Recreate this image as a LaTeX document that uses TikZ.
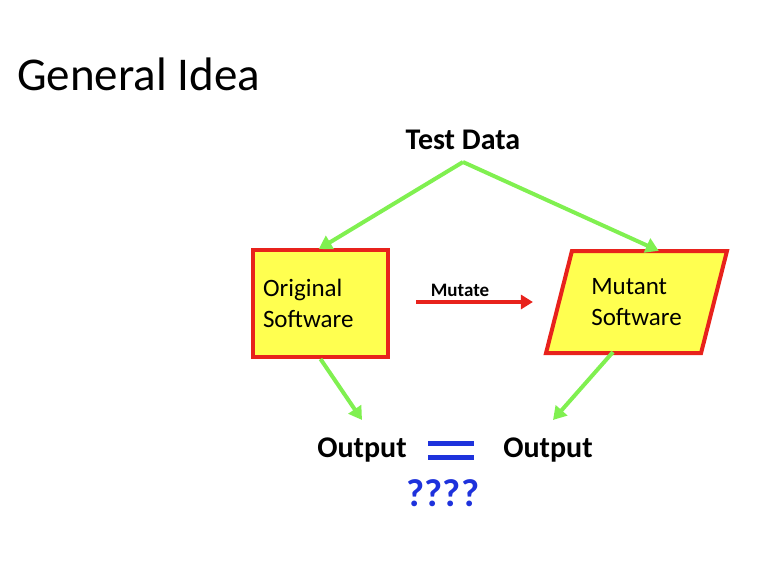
\documentclass[tikz,border=0pt]{standalone}
\usepackage{fontspec}
\setmainfont{Carlito}
\usetikzlibrary{arrows.meta,shapes.geometric}
\definecolor{ideaGreen}{RGB}{128,240,80}
\definecolor{ideaRed}{RGB}{232,34,28}
\definecolor{ideaYellow}{RGB}{255,255,80}
\definecolor{ideaBlue}{RGB}{30,50,220}
\tikzset{
	softbox/.style={draw=ideaRed, fill=ideaYellow, line width=4pt, font=\fontsize{25}{31}\selectfont, align=left, inner sep=0pt},
	flow/.style={draw=ideaGreen, line width=4pt, -{Triangle[length=13pt,width=15pt]}},
	label/.style={font=\bfseries\fontsize{30}{34}\selectfont, inner sep=0pt}
}

\begin{document}
\begin{tikzpicture}[x=1pt, y=-1pt]
		\useasboundingbox (0,0) rectangle (778,582);
		\node[anchor=base west, inner sep=0pt, font=\fontsize{47}{56}\selectfont] (title) at (17,90) {General Idea};
		
		\node[label] (test) at (463,140) {Test Data};
		\coordinate (split) at (463,162);
		
		\node[softbox, rectangle, minimum width=135pt, minimum height=107pt, text width=115pt] (orig) at (320.5,303.5) {Original\\Software};
		\node[softbox, trapezium, trapezium left angle=69, trapezium right angle=111, trapezium stretches=true, minimum width=181pt, minimum height=102pt] (mutant) at (636.5,302) {Mutant\\Software};
		\coordinate (mutIn) at (657,250);
		\coordinate (mutOut) at (613,352);
		
		\node[label] (outA) at (362,450) {Output};
		\node[label] (outB) at (548,450) {Output};
		\coordinate (inA) at (362,420);
		\coordinate (inB) at (553,420);
		\node[font=\bfseries\fontsize{39}{44}\selectfont, text=ideaBlue, inner sep=0pt] (ask) at (443,493) {????};
		
		% flow of the test data
		\draw[flow, shorten >=-2pt] (split) -- (orig.north);
		\draw[flow, shorten >=-2pt] (split) -- (mutIn);
		\draw[flow] (orig.south) -- (inA);
		\draw[flow] (mutOut) -- (inB);
		
		% mutation step
		\node[font=\bfseries\fontsize{19}{22}\selectfont, inner sep=0pt] (mut) at (460,290) {Mutate};
		\draw[draw=ideaRed, line width=4pt, -{Triangle[length=12pt,width=14pt]}, shorten <=26pt, shorten >=24pt] (mutant.west -| orig.east) -- (mutant.west);
		
		% the question
		\draw[ideaBlue, line width=5pt] (428,443) -- (474,443) (428,457) -- (474,457);
	\end{tikzpicture}
\end{document}
